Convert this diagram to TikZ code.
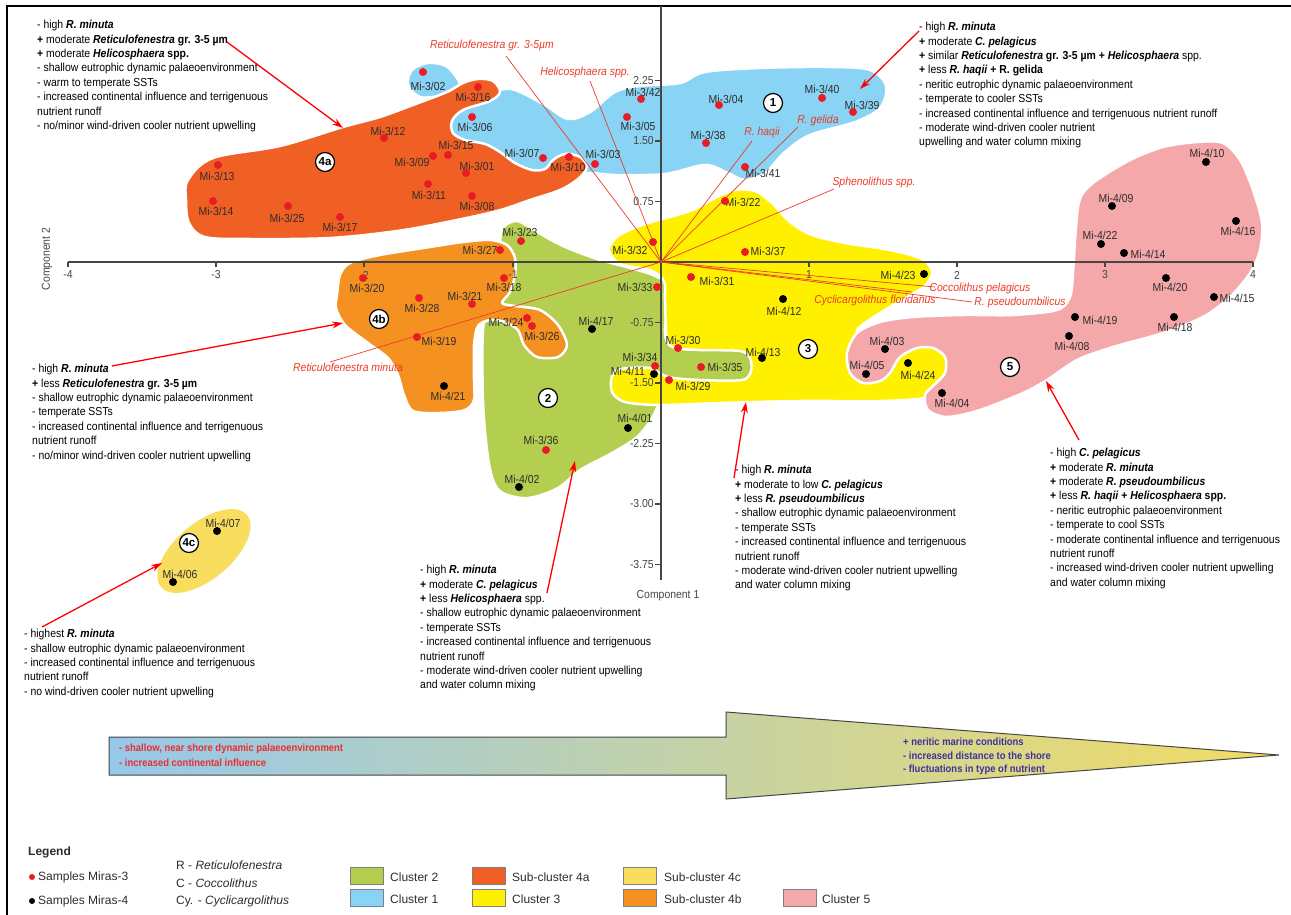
\documentclass[tikz,border=0pt]{standalone}
\usepackage{fontspec}
\setmainfont{Liberation Sans}
\newfontfamily\nrw{Liberation Sans}[FakeStretch=0.9]
\usetikzlibrary{shapes.geometric,arrows.meta}
\definecolor{cOne}{RGB}{137,211,244}
\definecolor{cTwo}{RGB}{180,207,80}
\definecolor{cThree}{RGB}{255,240,0}
\definecolor{cFourA}{RGB}{240,95,35}
\definecolor{cFourB}{RGB}{245,145,32}
\definecolor{cFourC}{RGB}{249,221,95}
\definecolor{cFive}{RGB}{245,168,170}
\definecolor{redpt}{RGB}{232,28,36}
\definecolor{loadred}{RGB}{235,60,40}
\definecolor{lbl}{RGB}{45,45,45}
\definecolor{axisgray}{RGB}{70,70,70}
\definecolor{arrL}{RGB}{150,200,235}
\definecolor{arrM}{RGB}{208,210,165}
\definecolor{arrR}{RGB}{242,220,100}
\definecolor{txtred}{RGB}{235,45,45}
\definecolor{txtblue}{RGB}{60,50,160}
\newcommand{\bfit}[1]{\textbf{\textit{#1}}}
\tikzset{
 blob/.style={draw=white, line width=2.5pt, line join=round},
 txt/.style={anchor=north west, inner sep=0pt, align=left, font=\nrw\fontsize{11.6}{14.4}\selectfont},
 smp/.style={inner sep=0pt, font=\nrw\fontsize{11.6}{12}\selectfont, text=lbl},
 rdot/.style={circle, fill=redpt, inner sep=0pt, minimum size=8pt},
 bdot/.style={circle, fill=black, inner sep=0pt, minimum size=8pt},
 badge/.style={circle, draw=black, line width=1.2pt, fill=white, inner sep=0pt, minimum size=19pt, font=\bfseries\fontsize{11.5}{12}\selectfont},
 load/.style={draw=loadred, line width=0.7pt},
 loadlbl/.style={inner sep=0pt, text=loadred, font=\nrw\itshape\fontsize{11.6}{12}\selectfont},
 callout/.style={draw=red, line width=1.3pt, -{Stealth[length=11pt,width=7pt]}},
 axisline/.style={draw=axisgray, line width=1.1pt},
 ticklbl/.style={inner sep=0pt, text=axisgray, font=\nrw\fontsize{11.6}{12}\selectfont},
 swatch/.style={draw=gray, line width=0.6pt, minimum width=33pt, minimum height=17pt, inner sep=0pt},
 legtxt/.style={anchor=west, inner sep=0pt, font=\fontsize{12}{14}\selectfont, text=lbl},
 bandtxt/.style={anchor=west, inner sep=0pt, font=\nrw\bfseries\fontsize{10.5}{12}\selectfont},
}
\begin{document}
\begin{tikzpicture}[x=1pt,y=-1pt]
\useasboundingbox (0,0) rectangle (1291,915);
\fill[white] (0,0) rectangle (1291,915);
\draw[line width=2pt] (7,915) -- (7,6) -- (1291,6);

% ---- clusters ----
\path[fill=cOne, blob] plot[smooth cycle, tension=0.55] coordinates {(408,85) (412,70) (428,63) (446,66) (457,78) (468,94) (497,90) (515,90) (545,105) (568,119) (590,112) (615,92) (640,86) (680,83) (705,72) (760,68) (830,67) (870,70) (886,86) (880,108) (855,122) (810,135) (785,152) (765,173) (745,180) (728,173) (705,165) (665,174) (615,175) (590,173) (560,176) (520,174) (480,150) (448,132) (447,105) (440,97) (420,97)};
\path[fill=cFourA, blob] plot[smooth cycle, tension=0.55] coordinates {(188,180) (213,158) (280,146) (343,127) (380,117) (413,105) (447,92) (463,83) (478,79) (493,81) (500,92) (490,101) (463,110) (452,121) (453,133) (465,140) (485,144) (500,152) (515,163) (532,170) (545,169) (553,160) (565,154) (580,157) (587,167) (578,179) (560,190) (530,200) (497,211) (447,222) (397,231) (330,238) (250,239) (205,237) (189,223) (186,200)};
\path[fill=cTwo, blob] plot[smooth cycle, tension=0.55] coordinates {(503,228) (517,221) (537,232) (563,246) (597,259) (630,268) (655,276) (670,290) (670,345) (752,350) (757,366) (750,382) (665,384) (660,400) (652,418) (637,437) (612,453) (580,470) (558,488) (528,498) (503,493) (493,480) (487,450) (483,400) (483,330) (490,305) (500,275) (500,245)};
\path[fill=cThree, blob] plot[smooth cycle, tension=0.5] coordinates {(609,250) (618,236) (645,224) (690,211) (715,198) (735,190) (755,191) (772,203) (790,222) (812,235) (845,243) (890,250) (922,259) (932,272) (925,286) (905,298) (880,313) (862,325) (857,332) (870,338) (895,345) (938,345) (950,366) (945,388) (925,398) (880,401) (800,401) (720,403) (660,405) (625,402) (612,392) (612,376) (620,369) (650,368) (668,377) (700,380) (742,380) (751,371) (750,358) (740,351) (700,350) (676,348) (667,340) (665,300) (664,281) (650,270) (620,264)};
\path[fill=cFive, blob] plot[smooth cycle, tension=0.5] coordinates {(1083,193) (1097,180) (1130,160) (1163,147) (1197,142) (1223,143) (1240,160) (1253,190) (1262,223) (1260,250) (1250,273) (1230,297) (1203,317) (1163,333) (1113,347) (1077,360) (1047,380) (1023,393) (980,410) (947,417) (928,410) (925,395) (933,386) (945,373) (945,357) (933,348) (917,348) (900,357) (890,373) (880,381) (863,383) (850,373) (847,353) (857,333) (880,322) (913,317) (963,315) (1013,315) (1057,310) (1070,297) (1073,273) (1075,240) (1078,207)};
\path[fill=cFourB, blob] plot[smooth cycle, tension=0.5] coordinates {(337,295) (340,275) (350,263) (380,255) (430,247) (463,242) (490,240) (507,245) (515,258) (515,275) (510,292) (502,303) (515,306) (540,310) (558,325) (567,345) (558,357) (537,357) (524,345) (518,330) (505,322) (490,320) (478,326) (474,345) (474,380) (474,400) (465,410) (440,413) (413,411) (404,395) (398,375) (388,358) (368,343) (345,325) (336,308)};
\node[ellipse, fill=cFourC, minimum width=112pt, minimum height=56pt, rotate=40, inner sep=0pt] (e4c) at (204,551) {};

% ---- axes ----
\coordinate (O) at (661,262);
\coordinate (axL) at (68,262);
\coordinate (axR) at (1253,262);
\coordinate (axT) at (661,6);
\coordinate (axB) at (661,580);
\draw[axisline] (axL) -- (axR);
\draw[axisline] (axT) -- (axB);
\foreach \tx/\tl in {68/-4,216/-3,364/-2,513/-1,809/1,957/2,1105/3,1253/4} {
  \draw[axisline] (\tx,262) -- (\tx,267);
  \node[ticklbl] (hx\tx) at (\tx,275) {\tl};
}
\foreach \ty/\tl in {80.5/2.25,141/1.50,201.5/0.75,322.5/-0.75,383/-1.50,443.5/-2.25,504/-3.00,564.5/-3.75} {
  \draw[axisline] (655,\ty) -- (661,\ty);
  \node[ticklbl, anchor=east] (vy\tl) at (654,\ty) {\tl};
}
\node[ticklbl] (c1) at (668,596) {Component 1};
\node[ticklbl, rotate=90] (c2) at (47,259) {Component 2};

% ---- loadings ----
\coordinate (eRet) at (506,56);
\coordinate (eHel) at (590,81);
\coordinate (eHaq) at (752,141);
\coordinate (eGel) at (798,127);
\coordinate (eSph) at (834,189);
\coordinate (eCoc) at (935,287);
\coordinate (eCyc) at (912,292);
\coordinate (ePse) at (972,302);
\coordinate (eMin) at (330,362);
\foreach \e in {eRet,eHel,eHaq,eGel,eSph,eCoc,eCyc,ePse,eMin} \draw[load] (O) -- (\e);
\node[loadlbl] (lRet) at (492,46) {Reticulofenestra gr. 3-5µm};
\node[loadlbl] (lHel) at (585,73) {Helicosphaera spp.};
\node[loadlbl] (lHaq) at (762,133) {R. haqii};
\node[loadlbl] (lGel) at (818,121) {R. gelida};
\node[loadlbl] (lSph) at (874,183) {Sphenolithus spp.};
\node[loadlbl] (lCoc) at (980,288) {Coccolithus pelagicus};
\node[loadlbl] (lCyc) at (875,301) {Cyclicargolithus floridanus};
\node[loadlbl] (lPse) at (1020,302) {R. pseudoumbilicus};
\node[loadlbl] (lMin) at (348,367) {Reticulofenestra minuta};

% ---- samples ----
\def\redlist{3/02/423/72/428/86, 3/16/478/87/473/97, 3/06/472/117/475/127, 3/12/384/138/388/131, 3/15/448/155/456/145, 3/09/433/156/412/162, 3/01/466/173/477/166, 3/11/428/184/429/195, 3/08/472/196/477/206, 3/13/218/165/217/176, 3/14/213/201/216/211, 3/25/288/206/287/218, 3/17/340/217/340/227, 3/07/543/158/522/153, 3/10/569/157/568/167, 3/03/595/164/603/154, 3/42/641/99/643/92, 3/05/627/117/638/126, 3/04/719/105/726/99, 3/38/706/143/708/135, 3/40/822/98/822/89, 3/39/853/112/862/105, 3/41/745/167/763/173, 3/22/725/201/743/202, 3/37/745/252/768/251, 3/32/653/242/630/250, 3/31/691/277/717/281, 3/30/678/348/683/340, 3/35/701/367/725/367, 3/29/669/380/693/386, 3/23/521/241/520/232, 3/27/500/250/480/250, 3/20/363/278/367/288, 3/18/504/278/504/287, 3/28/419/298/422/308, 3/21/472/304/465/296, 3/24/527/318/506/322, 3/26/532/326/542/336, 3/19/417/337/439/341, 3/33/657/287/635/287, 3/34/655/366/640/357, 3/36/546/450/541/440}
\def\blacklist{4/23/924/274/898/275, 4/12/783/299/784/311, 4/13/762/358/763/352, 4/03/885/349/887/341, 4/05/866/374/867/365, 4/24/908/363/918/375, 4/04/942/393/952/403, 4/17/592/329/596/321, 4/21/444/386/448/396, 4/11/654/374/628/371.5, 4/01/628/428/635/418, 4/02/519/487/522/479, 4/10/1206/162/1207/153, 4/09/1112/206/1116/198, 4/16/1236/221/1238/231, 4/22/1101/244/1100/235, 4/14/1124/253/1148/254, 4/20/1166/278/1170/287, 4/15/1214/297/1237/298, 4/19/1075/317/1100/320, 4/18/1174/317/1175/327, 4/08/1069/336/1072/346, 4/07/217/531/223/523, 4/06/173/582/180/574}
\foreach \pa/\pb/\pc/\pd/\pe/\pf in \redlist {\node[smp] (m\pa-\pb) at (\pe,\pf) {Mi-\pa/\pb};}
\foreach \pa/\pb/\pc/\pd/\pe/\pf in \blacklist {\node[smp] (m\pa-\pb) at (\pe,\pf) {Mi-\pa/\pb};}
\foreach \pa/\pb/\pc/\pd/\pe/\pf in \redlist {\node[rdot] (d\pa-\pb) at (\pc,\pd) {};}
\foreach \pa/\pb/\pc/\pd/\pe/\pf in \blacklist {\node[bdot] (d\pa-\pb) at (\pc,\pd) {};}

% ---- badges ----
\node[badge] (b1) at (773,103) {1};
\node[badge] (b4a) at (325,162) {4a};
\node[badge] (b4b) at (379,319) {4b};
\node[badge] (b2) at (548,398) {2};
\node[badge] (b3) at (808,349) {3};
\node[badge] (b5) at (1010,367) {5};
\node[badge] (b4c) at (189,543) {4c};

% ---- text blocks ----
\node[txt] (tTL) at (37,20) {- high \bfit{R. minuta}\\
\textbf{+} moderate \textbf{\textit{Reticulofenestra} gr. 3-5 µm}\\
\textbf{+} moderate \textbf{\textit{Helicosphaera} spp.}\\
- shallow eutrophic dynamic palaeoenvironment\\
- warm to temperate SSTs\\
- increased continental influence and terrigenuous\\
nutrient runoff\\
- no/minor wind-driven cooler nutrient upwelling};
\node[txt] (tTR) at (919,22) {- high \bfit{R. minuta}\\
\textbf{+} moderate \bfit{C. pelagicus}\\
\textbf{+} similar \textbf{\textit{Reticulofenestra} gr. 3-5 µm + \textit{Helicosphaera}} spp.\\
\textbf{+} less \textbf{\textit{R. haqii} + R. gelida}\\
- neritic eutrophic dynamic palaeoenvironment\\
- temperate to cooler SSTs\\
- increased continental influence and terrigenuous nutrient runoff\\
- moderate wind-driven cooler nutrient\\
upwelling and water column mixing};
\node[txt] (t4b) at (32,364) {- high \bfit{R. minuta}\\
\textbf{+} less \textbf{\textit{Reticulofenestra} gr. 3-5 µm}\\
- shallow eutrophic dynamic palaeoenvironment\\
- temperate SSTs\\
- increased continental influence and terrigenuous\\
nutrient runoff\\
- no/minor wind-driven cooler nutrient upwelling};
\node[txt] (t4c) at (24,629) {- highest \bfit{R. minuta}\\
- shallow eutrophic dynamic palaeoenvironment\\
- increased continental influence and terrigenuous\\
nutrient runoff\\
- no wind-driven cooler nutrient upwelling};
\node[txt] (t2) at (420,565) {- high \bfit{R. minuta}\\
\textbf{+} moderate \bfit{C. pelagicus}\\
\textbf{+} less \bfit{Helicosphaera} spp.\\
- shallow eutrophic dynamic palaeoenvironment\\
- temperate SSTs\\
- increased continental influence and terrigenuous\\
nutrient runoff\\
- moderate wind-driven cooler nutrient upwelling\\
and water column mixing};
\node[txt] (t3) at (735,465) {- high \bfit{R. minuta}\\
\textbf{+} moderate to low \bfit{C. pelagicus}\\
\textbf{+} less \bfit{R. pseudoumbilicus}\\
- shallow eutrophic dynamic palaeoenvironment\\
- temperate SSTs\\
- increased continental influence and terrigenuous\\
nutrient runoff\\
- moderate wind-driven cooler nutrient upwelling\\
and water column mixing};
\node[txt] (t5) at (1050,448) {- high \bfit{C. pelagicus}\\
\textbf{+} moderate \bfit{R. minuta}\\
\textbf{+} moderate \bfit{R. pseudoumbilicus}\\
\textbf{+} less \textbf{\textit{R. haqii} + \textit{Helicosphaera} spp.}\\
- neritic eutrophic palaeoenvironment\\
- temperate to cool SSTs\\
- moderate continental influence and terrigenuous\\
nutrient runoff\\
- increased wind-driven cooler nutrient upwelling\\
and water column mixing};

% ---- callouts ----
\coordinate (sTL) at (227,42);  \coordinate (hTL) at (343,128);
\coordinate (sTR) at (919,31);  \coordinate (hTR) at (860,89);
\coordinate (s4b) at (112,366); \coordinate (h4b) at (343,323);
\coordinate (s4c) at (42,627);  \coordinate (h4c) at (162,563);
\coordinate (s2) at (547,593);  \coordinate (h2) at (575,461);
\coordinate (s3) at (734,478);  \coordinate (h3) at (746,402);
\coordinate (s5) at (1079,440); \coordinate (h5) at (1046,381);
\foreach \a/\b in {sTL/hTL,sTR/hTR,s4b/h4b,s4c/h4c,s2/h2,s3/h3,s5/h5} \draw[callout] (\a) -- (\b);

% ---- gradient arrow ----
\shadedraw[left color=arrL, middle color=arrM, right color=arrR, draw=axisgray, line width=1pt]
  (109,737) -- (726,737) -- (726,712) -- (1279,755) -- (726,799) -- (726,775) -- (109,775) -- cycle;
\node[bandtxt, text=txtred] (ba1) at (119,749) {- shallow, near shore dynamic palaeoenvironment};
\node[bandtxt, text=txtred] (ba2) at (119,763) {- increased continental influence};
\node[bandtxt, text=txtblue] (bb1) at (903,742) {+ neritic marine conditions};
\node[bandtxt, text=txtblue] (bb2) at (903,756) {- increased distance to the shore};
\node[bandtxt, text=txtblue] (bb3) at (903,770) {- fluctuations in type of nutrient};

% ---- legend ----
\node[legtxt, font=\bfseries\fontsize{12}{14}\selectfont] (leg) at (28,852) {Legend};
\node[circle, fill=redpt, inner sep=0pt, minimum size=6pt] (lgr) at (32,877) {};
\node[legtxt] (lgrt) at (38,877) {Samples Miras-3};
\node[circle, fill=black, inner sep=0pt, minimum size=6pt] (lgb) at (32,901) {};
\node[legtxt] (lgbt) at (38,901) {Samples Miras-4};
\node[legtxt] (ab1) at (176,865) {R - \textit{Reticulofenestra}};
\node[legtxt] (ab2) at (176,883) {C - \textit{Coccolithus}};
\node[legtxt] (ab3) at (176,901) {Cy. - \textit{Cyclicargolithus}};
\node[swatch, fill=cTwo] (sw2) at (367,876) {};
\node[legtxt] (sw2t) at (390,877) {Cluster 2};
\node[swatch, fill=cOne] (sw1) at (367,898) {};
\node[legtxt] (sw1t) at (390,899) {Cluster 1};
\node[swatch, fill=cFourA] (sw4a) at (489,876) {};
\node[legtxt] (sw4at) at (512,877) {Sub-cluster 4a};
\node[swatch, fill=cThree] (sw3) at (489,898) {};
\node[legtxt] (sw3t) at (512,899) {Cluster 3};
\node[swatch, fill=cFourC] (sw4c) at (640,876) {};
\node[legtxt] (sw4ct) at (664,877) {Sub-cluster 4c};
\node[swatch, fill=cFourB] (sw4b) at (640,898) {};
\node[legtxt] (sw4bt) at (664,899) {Sub-cluster 4b};
\node[swatch, fill=cFive] (sw5) at (800,898) {};
\node[legtxt] (sw5t) at (822,899) {Cluster 5};
\end{tikzpicture}
\end{document}
